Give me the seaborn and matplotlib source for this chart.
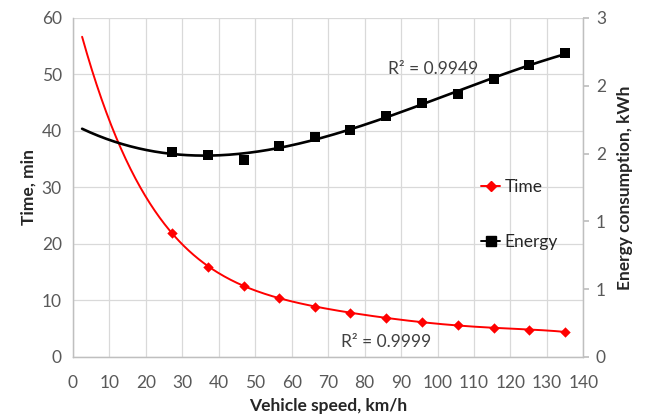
import numpy as np
import pandas as pd
import matplotlib
matplotlib.use("Agg")
import matplotlib.pyplot as plt
from matplotlib.lines import Line2D
from matplotlib.ticker import FixedLocator, FixedFormatter
import seaborn as sns

speed = [27.2, 37.0, 46.9, 56.6, 66.4, 76.1, 85.8, 95.7, 105.5, 115.4, 125.2, 135.0]
time_min = [21.9, 16.0, 12.6, 10.5, 8.85, 7.8, 6.96, 6.14, 5.6, 5.2, 4.8, 4.45]
energy_kwh = [1.81, 1.79, 1.74, 1.87, 1.95, 2.01, 2.13, 2.25, 2.33, 2.46, 2.58, 2.69]
right_ticks = [0, 0.6, 1.2, 1.8, 2.4, 3.0]
right_tick_labels = ["0", "1", "1", "2", "2", "3"]
r2_time = "R² = 0.9999"
r2_energy = "R² = 0.9949"

sns.set_theme(style="white")
plt.rcParams["font.family"] = ["Lato", "DejaVu Sans"]

df = pd.DataFrame({"speed": speed, "time": time_min, "energy": energy_kwh})

# polynomial trendlines (Excel style, with backward forecast)
xs = np.linspace(2.5, 135, 300)
trend = pd.DataFrame({
    "speed": xs,
    "time": np.polyval(np.polyfit(df["speed"], df["time"], 5), xs),
    "energy": np.polyval(np.polyfit(df["speed"], df["energy"], 3), xs),
})

grid_c = "#d9d9d9"
tick_c = "#595959"
fs = 12.5

fig = plt.figure(figsize=(6.46, 4.18), dpi=100)
ax = fig.add_axes([0.113, 0.146, 0.79, 0.811])
ax2 = ax.twinx()

sns.lineplot(data=trend, x="speed", y="time", ax=ax, color="#ff0000", lw=1.4)
sns.scatterplot(data=df, x="speed", y="time", ax=ax, color="#ff0000", marker="D",
                s=28, edgecolor="#ff0000", linewidth=0, zorder=3)
sns.lineplot(data=trend, x="speed", y="energy", ax=ax2, color="black", lw=1.9)
sns.scatterplot(data=df, x="speed", y="energy", ax=ax2, color="black", marker="s",
                s=55, edgecolor="black", linewidth=0, zorder=3)

ax.set_xlim(0, 140)
ax.set_ylim(0, 60)
ax.set_xticks(np.arange(0, 141, 10))
ax.set_yticks(np.arange(0, 61, 10))
ax.grid(True, color=grid_c, lw=0.9)
ax.set_axisbelow(True)
ax2.set_ylim(0, 3)
ax2.yaxis.set_major_locator(FixedLocator(right_ticks))
ax2.yaxis.set_major_formatter(FixedFormatter(right_tick_labels))
ax2.grid(False)

for a in (ax, ax2):
    for s in a.spines.values():
        s.set_color("#bfbfbf")
        s.set_linewidth(0.9)
    a.spines["top"].set_visible(False)

ax.tick_params(axis="x", length=0, labelsize=fs, labelcolor=tick_c, pad=13)
ax.tick_params(axis="y", length=0, labelsize=fs, labelcolor=tick_c, pad=8)
ax2.tick_params(axis="y", length=4, color="#bfbfbf", direction="out",
                labelsize=fs, labelcolor=tick_c, pad=5)

ax.set_xlabel("Vehicle speed, km/h", fontsize=12.5, fontweight="bold", labelpad=5)
ax.set_ylabel("Time, min", fontsize=12.5, fontweight="bold", labelpad=4)
ax2.set_ylabel("Energy consumption, kWh", fontsize=12.5, fontweight="bold", labelpad=8)

ax.text(0.706, 0.85, r2_energy, transform=ax.transAxes, fontsize=fs,
        color="#404040", ha="center", va="center")
ax.text(0.614, 0.044, r2_time, transform=ax.transAxes, fontsize=fs,
        color="#404040", ha="center", va="center")

handles = [
    Line2D([], [], color="#ff0000", lw=1.4, marker="D", markersize=5),
    Line2D([], [], color="black", lw=1.4, marker="s", markersize=6.5),
]
fig.legend(handles, ["Time", "Energy"], loc="upper left",
           bbox_to_anchor=(481 / 646, 1 - 179 / 418), frameon=False,
           fontsize=fs, labelspacing=2.25, handlelength=1.1, handletextpad=0.25,
           borderpad=0, borderaxespad=0)

fig.savefig("out.png", dpi=100)
